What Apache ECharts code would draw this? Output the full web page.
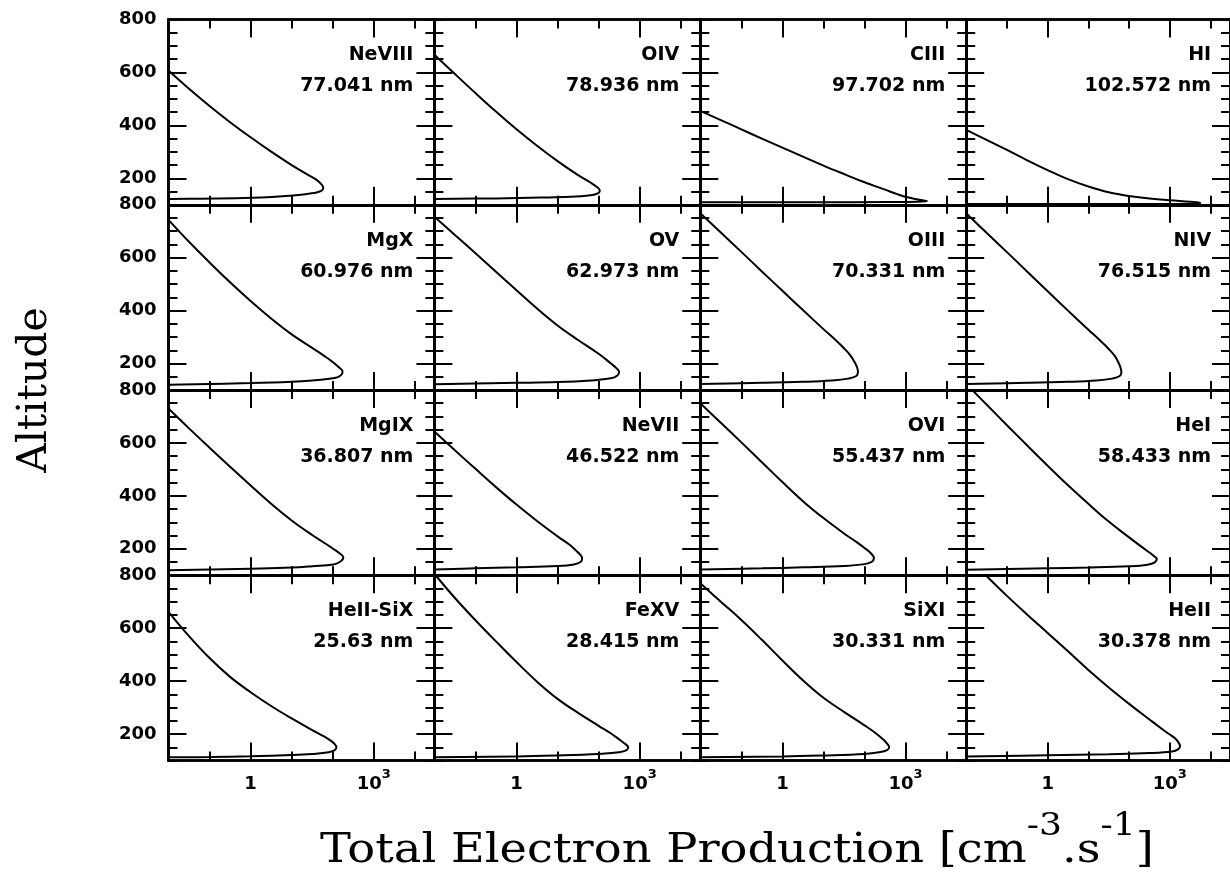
<!DOCTYPE html>
<html><head><meta charset="utf-8">
<script src="https://cdn.jsdelivr.net/npm/echarts@6.0.0/dist/echarts.min.js"></script>
<style>html,body{margin:0;padding:0;background:#fff}#c{width:1230px;height:875px}</style>
</head><body><div id="c"></div><script>
// ---- data ----
const panelNames = ['NeVIII','OIV','CIII','HI','MgX','OV','OIII','NIV','MgIX','NeVII','OVI','HeI','HeII-SiX','FeXV','SiXI','HeII'];
const wavelengths = ['77.041 nm','78.936 nm','97.702 nm','102.572 nm','60.976 nm','62.973 nm','70.331 nm','76.515 nm','36.807 nm','46.522 nm','55.437 nm','58.433 nm','25.63 nm','28.415 nm','30.331 nm','30.378 nm'];
const xMajorTicks = [1, 1000];
const yMajorTicks = [200, 400, 600];
const yTickLabels = [200, 400, 600, 800];

// production [cm^-3 s^-1] and altitude [km]
const prodNeVIII = [0.01, 0.0316, 0.1, 0.316, 1, 3.16, 10, 31.6, 39.8, 52.5, 58.9, 52.5, 33.9, 11.0, 1.07, 0.0575, 0.01];
const altNeVIII  = [607, 538, 473, 412, 355, 301, 250, 204, 195, 178, 164, 152, 144, 135, 126, 123, 122];
const prodOIV = [0.01, 0.0316, 0.1, 0.316, 1, 3.16, 10, 31.6, 63.1, 89.1, 107, 95.5, 63.1, 20.0, 3.98, 0.316, 0.01];
const altOIV  = [667, 594, 522, 452, 385, 323, 265, 212, 184, 168, 154, 143, 136, 130, 127, 124, 122];
const prodCIII = [0.01, 0.0316, 0.1, 0.316, 1, 3.16, 10, 31.6, 100, 316, 631, 1122, 1995, 3311, 1995, 316, 10, 0.01];
const altCIII  = [455, 420, 385, 350, 316, 282, 248, 216, 185, 157, 140, 128, 120, 114, 111, 110, 109, 109];
const prodHI = [0.01, 0.0316, 0.1, 0.316, 1, 3.16, 10, 31.6, 100, 316, 1000, 3162, 5623, 3162, 100, 0.01];
const altHI  = [383, 345, 307, 268, 231, 197, 169, 147, 133, 124, 117, 111, 107, 104, 103, 103];

const prodMgX = [0.01, 0.0316, 0.1, 0.316, 1, 3.16, 10, 31.6, 63.1, 100, 141, 174, 158, 112, 31.6, 10, 1, 0.01];
const altMgX  = [743, 660, 582, 507, 436, 370, 310, 259, 228, 206, 186, 170, 156, 145, 136, 131, 126, 120];
const prodOV = [0.01, 0.0316, 0.1, 0.316, 1, 3.16, 10, 31.6, 100, 200, 282, 316, 288, 200, 63.1, 10, 1, 0.01];
const altOV  = [755, 686, 617, 547, 477, 408, 344, 289, 237, 200, 180, 168, 155, 144, 136, 130, 127, 122];
const prodOIII = [0.01, 0.0316, 0.1, 0.316, 1, 3.16, 10, 20.0, 31.6, 44.7, 57.5, 66.1, 69.2, 63.1, 39.8, 15.8, 3.16, 0.316, 0.01];
const altOIII  = [768, 695, 622, 548, 475, 402, 330, 288, 258, 232, 205, 185, 168, 153, 143, 136, 131, 127, 123];
const prodNIV = [0.01, 0.0316, 0.1, 0.316, 1, 3.16, 10, 20.0, 31.6, 44.7, 55.0, 61.7, 64.6, 58.9, 38.0, 15.8, 3.16, 0.316, 0.01];
const altNIV  = [768, 694, 621, 547, 473, 400, 328, 285, 255, 228, 203, 184, 168, 153, 143, 136, 131, 127, 123];

const prodMgIX = [0.01, 0.0316, 0.1, 0.316, 1, 3.16, 10, 31.6, 63.1, 100, 141, 182, 158, 105, 31.6, 10, 1, 0.01];
const altMgIX  = [730, 655, 582, 510, 439, 370, 307, 252, 222, 201, 185, 168, 153, 141, 134, 129, 125, 119];
const prodNeVII = [0.01, 0.0316, 0.1, 0.316, 1, 3.16, 10, 20.0, 28.2, 35.5, 39.8, 36.3, 25.1, 10, 1, 0.1, 0.01];
const altNeVII  = [643, 572, 502, 433, 367, 305, 247, 214, 193, 178, 164, 150, 141, 135, 130, 126, 122];
const prodOVI = [0.01, 0.0316, 0.1, 0.316, 1, 3.16, 10, 31.6, 63.1, 100, 141, 170, 151, 100, 31.6, 3.16, 0.316, 0.01];
const altOVI  = [750, 676, 602, 527, 452, 380, 316, 258, 226, 203, 184, 165, 151, 142, 135, 130, 126, 122];
const prodHeI = [0.0141, 0.0316, 0.1, 0.316, 1, 3.16, 10, 31.6, 100, 200, 316, 427, 479, 427, 282, 100, 10, 1, 0.01];
const altHeI  = [800, 745, 667, 590, 514, 440, 370, 303, 243, 208, 186, 170, 162, 149, 140, 134, 129, 126, 121];

const prodHeIISiX = [0.01, 0.0316, 0.1, 0.316, 1, 3.16, 10, 31.6, 63.1, 89.1, 112, 123, 112, 79.4, 31.6, 10, 1, 0.1, 0.01];
const altHeIISiX  = [662, 570, 487, 416, 358, 306, 259, 215, 190, 175, 162, 150, 139, 131, 125, 121, 116, 113, 112];
const prodFeXV = [0.0107, 0.0316, 0.1, 0.316, 1, 3.16, 10, 31.6, 100, 200, 316, 447, 525, 479, 316, 100, 10, 1, 0.01];
const altFeXV  = [800, 714, 630, 550, 472, 398, 333, 280, 231, 202, 180, 162, 150, 139, 131, 125, 119, 115, 112];
const prodSiXI = [0.01, 0.0316, 0.1, 0.316, 1, 3.16, 10, 31.6, 100, 178, 282, 363, 398, 355, 224, 100, 10, 1, 0.01];
const altSiXI  = [770, 700, 631, 556, 478, 403, 337, 284, 233, 206, 180, 162, 150, 139, 131, 125, 119, 115, 112];
const prodHeII = [0.0302, 0.1, 0.316, 1, 3.16, 10, 31.6, 100, 316, 631, 1000, 1380, 1660, 1778, 1622, 1122, 316, 31.6, 1, 0.01];
const altHeII  = [800, 722, 651, 582, 513, 442, 376, 314, 255, 220, 198, 182, 166, 155, 143, 134, 128, 124, 120, 115];

const prodList = [prodNeVIII, prodOIV, prodCIII, prodHI, prodMgX, prodOV, prodOIII, prodNIV,
                  prodMgIX, prodNeVII, prodOVI, prodHeI, prodHeIISiX, prodFeXV, prodSiXI, prodHeII];
const altList  = [altNeVIII, altOIV, altCIII, altHI, altMgX, altOV, altOIII, altNIV,
                  altMgIX, altNeVII, altOVI, altHeI, altHeIISiX, altFeXV, altSiXI, altHeII];

// ---- layout ----
const X_MIN = 0.01, X_MAX = 30000, Y_MIN = 100, Y_MAX = 800;
const GL = 168.5, GT = 19.5, CW = 265.9, CH = 185.25;
const BLACK = '#000';
const labelFont = 'DejaVu Sans';
const serif = 'DejaVu Serif';

const grids = [], xAxes = [], yAxes = [], series = [], graphics = [];
const tickStyle = {color: BLACK, width: 2};
const lineStyle = {color: BLACK, width: 2.6};

panelNames.forEach((name, i) => {
  const r = Math.floor(i / 4), c = i % 4;
  const left = GL + c * CW, top = GT + r * CH;
  grids.push({left: left, top: top, width: CW, height: CH});
  const isBottomRow = r === 3, isLeftCol = c === 0;

  const xBase = {type: 'log', logBase: 10, min: X_MIN, max: X_MAX, gridIndex: i,
    splitLine: {show: false}, minorTick: {show: false}, minorSplitLine: {show: false},
    axisLine: {show: true, onZero: false, lineStyle: lineStyle}};
  ['bottom', 'top'].forEach(pos => {
    xAxes.push(Object.assign({}, xBase, {position: pos,
      axisTick: {show: true, inside: true, length: 9, interval: 0, lineStyle: tickStyle},
      axisLabel: {show: false}}));
    xAxes.push(Object.assign({}, xBase, {position: pos,
      axisTick: {show: true, inside: true, length: 18, customValues: xMajorTicks, lineStyle: tickStyle},
      axisLabel: {show: pos === 'bottom' && isBottomRow, customValues: xMajorTicks, margin: 8,
        formatter: v => { const e = Math.round(Math.log10(v)); return e === 0 ? '{m|1}' : '{m|10}{s|' + e + '}'; },
        rich: {
          m: {fontFamily: labelFont, fontWeight: 'bold', fontSize: 18, lineHeight: 32, color: BLACK},
          s: {fontFamily: labelFont, fontWeight: 'bold', fontSize: 13, lineHeight: 14, verticalAlign: 'top', color: BLACK}
        }}}));
  });

  const yBase = {type: 'value', min: Y_MIN, max: Y_MAX, gridIndex: i,
    splitLine: {show: false}, axisLine: {show: true, onZero: false, lineStyle: lineStyle}};
  ['left', 'right'].forEach(pos => {
    yAxes.push(Object.assign({}, yBase, {position: pos, interval: 50,
      axisTick: {show: true, inside: true, length: 9, lineStyle: tickStyle},
      axisLabel: {show: false}}));
    yAxes.push(Object.assign({}, yBase, {position: pos, interval: 50,
      axisTick: {show: true, inside: true, length: 18, customValues: yMajorTicks, lineStyle: tickStyle},
      axisLabel: {show: pos === 'left' && isLeftCol, customValues: yTickLabels, margin: 12,
        fontFamily: labelFont, fontWeight: 'bold', fontSize: 18, color: BLACK}}));
  });

  series.push({type: 'line', name: name, xAxisIndex: i * 4, yAxisIndex: i * 4,
    data: prodList[i].map((p, k) => [p, altList[i][k]]),
    showSymbol: false, symbol: 'none', smooth: 0.4, clip: true, silent: true,
    lineStyle: {color: BLACK, width: 2}});

  graphics.push({type: 'text', x: left + CW - 21, y: top + 36, silent: true,
    style: {text: name, align: 'right', verticalAlign: 'middle', fill: BLACK,
      font: 'bold 19px "' + labelFont + '"'}});
  graphics.push({type: 'text', x: left + CW - 21, y: top + 67, silent: true,
    style: {text: wavelengths[i], align: 'right', verticalAlign: 'middle', fill: BLACK,
      font: 'bold 19px "' + labelFont + '"'}});
});

graphics.push({type: 'text', x: 35, y: 390, rotation: Math.PI / 2, silent: true,
  style: {text: 'Altitude', align: 'center', verticalAlign: 'middle', fill: BLACK,
    font: '41px "' + serif + '"'}});
graphics.push({type: 'text', x: 320, y: 811, scaleX: 1.13, silent: true,
  style: {text: '{t|Total Electron Production [cm}{s|-3}{t|.s}{s|-1}{t|]}',
    align: 'left', verticalAlign: 'top',
    rich: {
      t: {fontFamily: serif, fontSize: 41, lineHeight: 80, fill: BLACK},
      s: {fontFamily: serif, fontSize: 32, lineHeight: 40, verticalAlign: 'top', fill: BLACK}
    }}});

const chart = echarts.init(document.getElementById('c'), null, {renderer: 'canvas'});
chart.setOption({
  animation: false,
  backgroundColor: '#fff',
  grid: grids, xAxis: xAxes, yAxis: yAxes, series: series, graphic: graphics
});
</script></body></html>
